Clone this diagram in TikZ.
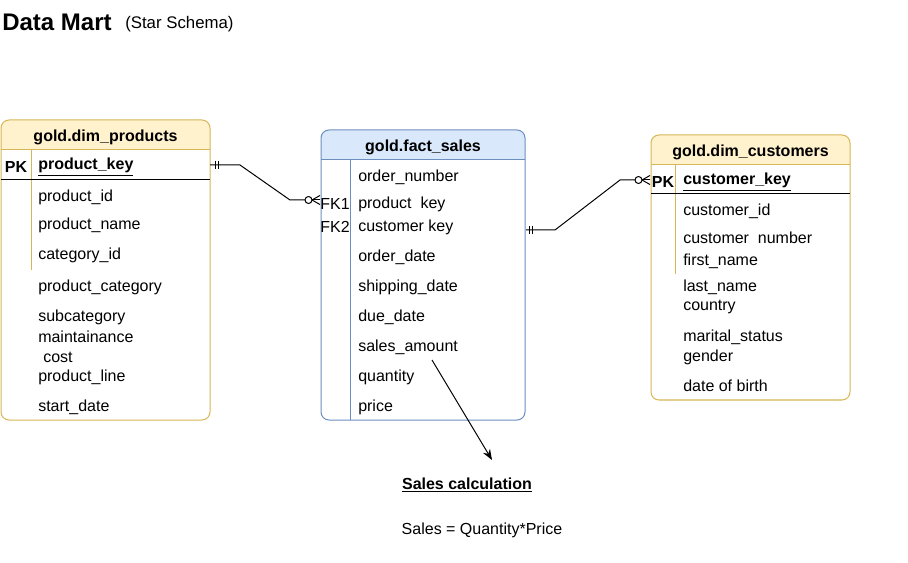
\documentclass[tikz,border=0pt]{standalone}
\usepackage{fontspec}
\setmainfont{Liberation Sans}
\usepackage{xcolor}
\usetikzlibrary{calc,arrows.meta}
\definecolor{yfill}{HTML}{FFF2CC}
\definecolor{yline}{HTML}{D6B656}
\definecolor{bfill}{HTML}{DAE8FC}
\definecolor{bline}{HTML}{6C8EBF}
\tikzset{
  tbl/.style={line width=0.75pt, rounded corners=6pt},
  sep/.style={line width=0.75pt},
  conn/.style={draw=black, line width=0.75pt, line join=round},
  fld/.style={anchor=west, inner sep=0pt, yshift=-1.5pt, font=\fontsize{12}{14}\selectfont},
  hdr/.style={inner sep=0pt, yshift=-1.5pt, font=\fontsize{12}{14}\selectfont\bfseries},
  keyc/.style={inner sep=0pt, yshift=-1.5pt, font=\fontsize{12}{14}\selectfont},
}

\begin{document}
\begin{tikzpicture}[x=0.75pt, y=-0.75pt]
  \useasboundingbox (0,0) rectangle (908,563);
  % title
  \node[anchor=west, inner sep=0pt, font=\fontsize{18}{20}\selectfont\bfseries] (title) at (2,22) {Data Mart};
  \node[anchor=west, inner sep=0pt, font=\fontsize{12.6}{14}\selectfont] (sub) at (125,24) {(Star Schema)};

  % gold.dim_products
  \begin{scope}
    \clip[rounded corners=6pt] (1,120) rectangle (210,420);
    \fill[yfill] (1,120) rectangle (210,150);
  \end{scope}
  \draw[tbl, draw=yline] (1,120) rectangle (210,420);
  \draw[sep, yline] (1,150) -- (210,150);
  \draw[sep, yline] (31,150) -- (31,270);
  \draw[sep, black] (1,180) -- (210,180);
  \node[hdr] (prodH) at (105.5,135) {gold.dim\_products};
  \node[hdr] (prodPK) at (16,165) {PK};
  \node[fld, font=\fontsize{12}{14}\selectfont\bfseries] (prodKey) at (38,165) {\underline{product\_key}};
  \node[fld] (prodId) at (38,195) {product\_id};
  \node[fld] (prodName) at (38,223) {product\_name};
  \node[fld] (prodCatId) at (38,253) {category\_id};
  \node[fld] (prodCat) at (38,285) {product\_category};
  \node[fld] (prodSub) at (38,315) {subcategory};
  \node[fld] (prodMnt) at (38,335) {maintainance};
  \node[fld] (prodCost) at (43,355) {cost};
  \node[fld] (prodLine) at (38,375) {product\_line};
  \node[fld] (prodStart) at (38,405) {start\_date};

  % gold.fact_sales
  \begin{scope}
    \clip[rounded corners=6pt] (321,130) rectangle (525,420);
    \fill[bfill] (321,130) rectangle (525,160);
  \end{scope}
  \draw[tbl, draw=bline] (321,130) rectangle (525,420);
  \draw[sep, bline] (321,160) -- (525,160);
  \draw[sep, bline] (350,160) -- (350,420);
  \node[hdr] (factH) at (423,145) {gold.fact\_sales};
  \node[fld] (factOrd) at (358,175) {order\_number};
  \node[keyc] (factFK1) at (335,202) {FK1};
  \node[fld] (factProd) at (358,202) {product\ \ key};
  \node[keyc] (factFK2) at (335,225) {FK2};
  \node[fld] (factCust) at (358,225) {customer key};
  \node[fld] (factOD) at (358,255) {order\_date};
  \node[fld] (factSD) at (358,285) {shipping\_date};
  \node[fld] (factDD) at (358,315) {due\_date};
  \node[fld] (factAmt) at (358,345) {sales\_amount};
  \node[fld] (factQty) at (358,375) {quantity};
  \node[fld] (factPrice) at (358,405) {price};

  % gold.dim_customers
  \begin{scope}
    \clip[rounded corners=6pt] (651,135) rectangle (850,400);
    \fill[yfill] (651,135) rectangle (850,165);
  \end{scope}
  \draw[tbl, draw=yline] (651,135) rectangle (850,400);
  \draw[sep, yline] (651,165) -- (850,165);
  \draw[sep, yline] (675,165) -- (675,274);
  \draw[sep, black] (651,194) -- (850,194);
  \node[hdr] (custH) at (750.5,150) {gold.dim\_customers};
  \node[hdr] (custPK) at (663,180) {PK};
  \node[fld, font=\fontsize{12}{14}\selectfont\bfseries] (custKey) at (683,180) {\underline{customer\_key}};
  \node[fld] (custId) at (683,209) {customer\_id};
  \node[fld] (custNum) at (683,236) {customer\ \ number};
  \node[fld] (custFirst) at (683,259) {first\_name};
  \node[fld] (custLast) at (683,285) {last\_name};
  \node[fld] (custCtry) at (683,305) {country};
  \node[fld] (custMar) at (683,335) {marital\_status};
  \node[fld] (custGen) at (683,355) {gender};
  \node[fld] (custBirth) at (683,384) {date of birth};

  % relations
  \coordinate (pkP) at (210,165);
  \coordinate (fkP) at (320,200);
  \coordinate (fkC) at (526,230);
  \coordinate (pkC) at (650,180);
  \draw[conn] (pkP) -- ++(30,0) -- ++(50,35) -- ($(fkP)+(-15,0)$);
  \draw[conn] ($(pkP)+(5,-4)$) -- ++(0,8);
  \draw[conn] ($(pkP)+(8,-4)$) -- ++(0,8);
  \draw[conn] ($(fkP)+(-11.5,0)$) circle (3.5);
  \draw[conn] ($(fkP)+(-8,0)$) -- (fkP);
  \draw[conn] ($(fkP)+(-8,0)$) -- ++(8,-4.5);
  \draw[conn] ($(fkP)+(-8,0)$) -- ++(8,4.5);

  \draw[conn] (fkC) -- ++(29,0) -- ++(65,-50) -- ($(pkC)+(-15,0)$);
  \draw[conn] ($(fkC)+(3,-4)$) -- ++(0,8);
  \draw[conn] ($(fkC)+(6,-4)$) -- ++(0,8);
  \draw[conn] ($(pkC)+(-11.5,0)$) circle (3.5);
  \draw[conn] ($(pkC)+(-8,0)$) -- (pkC);
  \draw[conn] ($(pkC)+(-8,0)$) -- ++(8,-4.5);
  \draw[conn] ($(pkC)+(-8,0)$) -- ++(8,4.5);

  % sales calculation note
  \node[inner sep=0pt, yshift=-1.5pt, font=\fontsize{12}{14}\selectfont\bfseries] (calc) at (467,483) {\underline{Sales calculation}};
  \node[inner sep=0pt, yshift=-1.5pt, font=\fontsize{12}{14}\selectfont] (formula) at (482,528) {Sales = Quantity*Price};
  \coordinate (arrS) at (432,360);
  \coordinate (arrE) at (492,460);
  \draw[conn, -{Stealth[length=8pt, width=6pt]}] (arrS) -- (arrE);
\end{tikzpicture}
\end{document}
